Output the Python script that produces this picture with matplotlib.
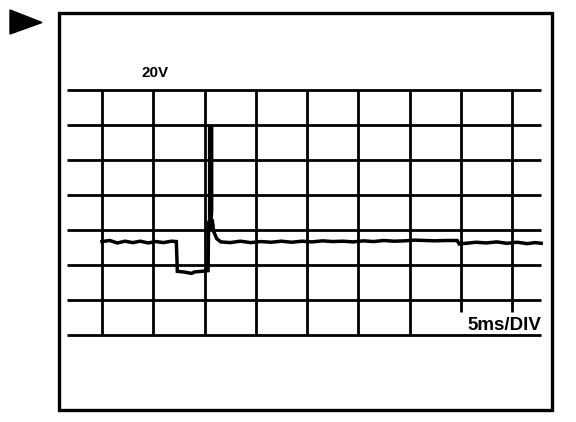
import matplotlib.pyplot as plt
from matplotlib.patches import Polygon, Rectangle

# scope screen: 8 x 7 divisions, values in divisions
n_xdiv = 8
n_ydiv = 7
volts_label = "20V"
time_label = "5ms/DIV"

trace_x = [0.0, 0.15, 0.3, 0.45, 0.6, 0.75, 0.9, 1.05, 1.2, 1.35, 1.45,
           1.47, 1.6, 1.75, 1.8, 1.95, 2.07,
           2.08, 2.10, 2.10, 2.14, 2.14, 2.12, 2.15, 2.18, 2.24, 2.32,
           2.5, 2.7, 2.9, 3.1, 3.3, 3.5, 3.7, 3.9, 4.1, 4.3, 4.5, 4.7, 4.9,
           5.1, 5.3, 5.5, 5.7, 5.9, 6.1, 6.3, 6.5, 6.7, 6.93,
           6.97, 7.1, 7.3, 7.5, 7.7, 7.9, 8.1, 8.3, 8.45, 8.57]
trace_y = [2.67, 2.70, 2.63, 2.68, 2.64, 2.68, 2.63, 2.67, 2.64, 2.68, 2.67,
           1.82, 1.80, 1.76, 1.80, 1.82, 1.84,
           3.2, 3.3, 5.94, 5.94, 3.6, 3.0, 3.3, 2.95, 2.75, 2.66,
           2.64, 2.68, 2.64, 2.67, 2.65, 2.68, 2.65, 2.68, 2.66, 2.69, 2.67, 2.68, 2.66,
           2.69, 2.67, 2.70, 2.68, 2.69, 2.71, 2.70, 2.69, 2.70, 2.70,
           2.60, 2.62, 2.65, 2.63, 2.66, 2.62, 2.65, 2.61, 2.64, 2.62]

W, H = 576, 422
fig = plt.figure(figsize=(W / 100, H / 100), dpi=100)
ax = fig.add_axes([0, 0, 1, 1])
ax.set_axis_off()

# pixel geometry of the screen
x0_px, div_w = 102, 51.25
y0_px, div_h = 335, 35.0
ax.set_xlim(-x0_px / div_w, (W - x0_px) / div_w)
ax.set_ylim((y0_px - H) / div_h, y0_px / div_h)

hl_left, hl_right = (67 - x0_px) / div_w, (541 - x0_px) / div_w
for j in range(n_ydiv + 1):
    ax.plot([hl_left, hl_right], [j, j], color='black', lw=2.0, solid_capstyle='butt')
for i in range(n_xdiv + 1):
    ybot = 0.66 if i >= 7 else 0
    ax.plot([i, i], [ybot, n_ydiv], color='black', lw=2.0, solid_capstyle='butt')

ax.plot(trace_x, trace_y, color='black', lw=2.5, solid_joinstyle='miter')

ax.text(1.03, 7.49, volts_label, fontsize=11, fontweight='bold',
        family='Liberation Sans', ha='center', va='center')
ax.text(hl_right, 0.27, time_label, fontsize=13.5, fontweight='bold',
        family='Liberation Sans', ha='right', va='center')

# outer frame and marker triangle (figure pixels)
fig.patches.append(Rectangle((59 / W, 1 - 410 / H), (552 - 59) / W, (410 - 13) / H,
                             transform=fig.transFigure, fill=False, lw=2.4, ec='black'))
fig.patches.append(Polygon([(10 / W, 1 - 10 / H), (10 / W, 1 - 34 / H), (42 / W, 1 - 22.5 / H)],
                           closed=True, transform=fig.transFigure, fc='black', ec='black'))

fig.savefig('out.png', dpi=100)
